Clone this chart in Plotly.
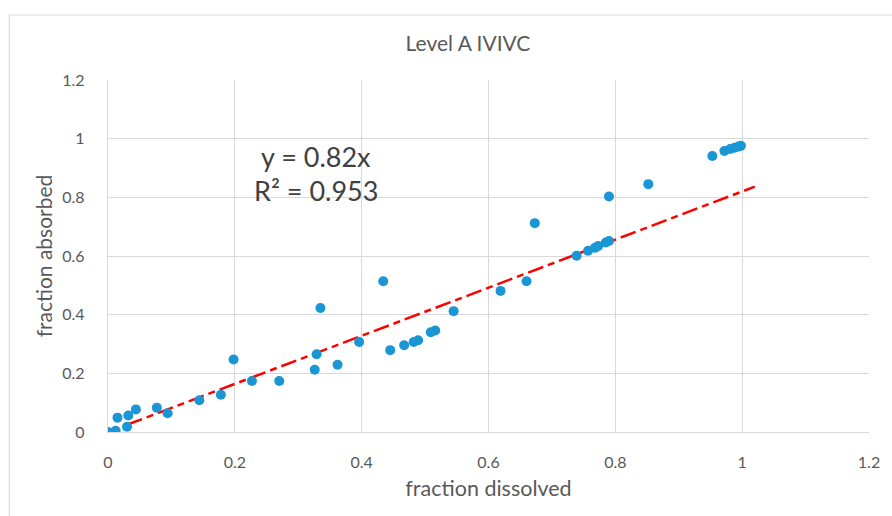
import plotly.graph_objects as go

fraction_dissolved = [0.000, 0.012, 0.015, 0.030, 0.032, 0.044, 0.077, 0.094, 0.144, 0.178,
                      0.198, 0.227, 0.270, 0.326, 0.329, 0.335, 0.362, 0.396, 0.434, 0.445,
                      0.467, 0.482, 0.489, 0.509, 0.516, 0.545, 0.619, 0.660, 0.673, 0.739,
                      0.757, 0.768, 0.773, 0.785, 0.790, 0.790, 0.852, 0.953, 0.972, 0.981,
                      0.988, 0.994, 0.998]
fraction_absorbed = [0.000, 0.004, 0.049, 0.018, 0.056, 0.077, 0.083, 0.064, 0.108, 0.127,
                     0.247, 0.174, 0.174, 0.212, 0.265, 0.423, 0.229, 0.307, 0.514, 0.279,
                     0.296, 0.307, 0.313, 0.340, 0.346, 0.412, 0.481, 0.514, 0.712, 0.601,
                     0.618, 0.628, 0.634, 0.646, 0.651, 0.803, 0.845, 0.941, 0.958, 0.965,
                     0.969, 0.973, 0.976]
slope = 0.82
trend_x = [0.03, 1.02]
trend_y = [slope * v for v in trend_x]
x_ticks = [0, 0.2, 0.4, 0.6, 0.8, 1, 1.2]
y_ticks = [0, 0.2, 0.4, 0.6, 0.8, 1, 1.2]
tick_text = ["0", "0.2", "0.4", "0.6", "0.8", "1", "1.2"]

TXT = "#595959"
GRID = "#d9d9d9"
FONT = "Lato"

L, R, T, B = 108, 872, 80, 432
W, H = R - L, B - T

fig = go.Figure()
fig.add_trace(go.Scatter(x=trend_x, y=trend_y, mode="lines",
                         line=dict(color="#FF0000", width=2.5, dash="16px,5px,7px,5px"),
                         hoverinfo="skip", showlegend=False))
fig.add_trace(go.Scatter(x=fraction_dissolved, y=fraction_absorbed, mode="markers",
                         marker=dict(color="#1A96D5", size=10, line=dict(width=0)),
                         showlegend=False))

fig.update_layout(
    width=892, height=516,
    margin=dict(l=L, r=892 - R, t=T, b=516 - B),
    paper_bgcolor="white", plot_bgcolor="white",
    font=dict(family=FONT, color=TXT, size=16),
    title=dict(text="Level A IVIVC", x=468 / 892, xref="container", xanchor="center",
               y=1 - 44 / 516, yref="container", yanchor="middle",
               font=dict(family=FONT, size=21, color=TXT)),
    xaxis=dict(range=[0, 1.2], tickvals=x_ticks, ticktext=tick_text,
               showgrid=True, gridcolor=GRID, gridwidth=1.3,
               zeroline=False, showline=True, linecolor=GRID, linewidth=1.3,
               ticks="", ticklabelstandoff=16,
               title=dict(text="fraction dissolved", standoff=10,
                          font=dict(family=FONT, size=21.5, color=TXT)),
               tickfont=dict(family=FONT, size=16, color=TXT)),
    yaxis=dict(range=[0, 1.2], tickvals=y_ticks, ticktext=tick_text,
               showgrid=True, gridcolor=GRID, gridwidth=1.3,
               zeroline=False, showline=True, linecolor=GRID, linewidth=1.3,
               ticks="", ticklabelstandoff=19,
               title=dict(text="fraction absorbed", standoff=3,
                          font=dict(family=FONT, size=21, color=TXT)),
               tickfont=dict(family=FONT, size=16, color=TXT)),
    shapes=[dict(type="rect", xref="paper", yref="paper",
                 x0=(9 - L) / W, x1=(900 - L) / W,
                 y0=(B - 530) / H, y1=(B - 15) / H,
                 line=dict(color="#d9d9d9", width=1.2), fillcolor="rgba(0,0,0,0)",
                 layer="below")],
    annotations=[
        dict(text="y = 0.82x", x=(317 - L) / W, y=(B - 156) / H,
             xref="x domain", yref="y domain", xanchor="center", yanchor="middle",
             showarrow=False, font=dict(family=FONT, size=27, color="#404040")),
        dict(text="R² = 0.953", x=(317 - L) / W, y=(B - 190) / H,
             xref="x domain", yref="y domain", xanchor="center", yanchor="middle",
             showarrow=False, font=dict(family=FONT, size=27, color="#404040")),
    ],
)

fig.write_html("out.html")
